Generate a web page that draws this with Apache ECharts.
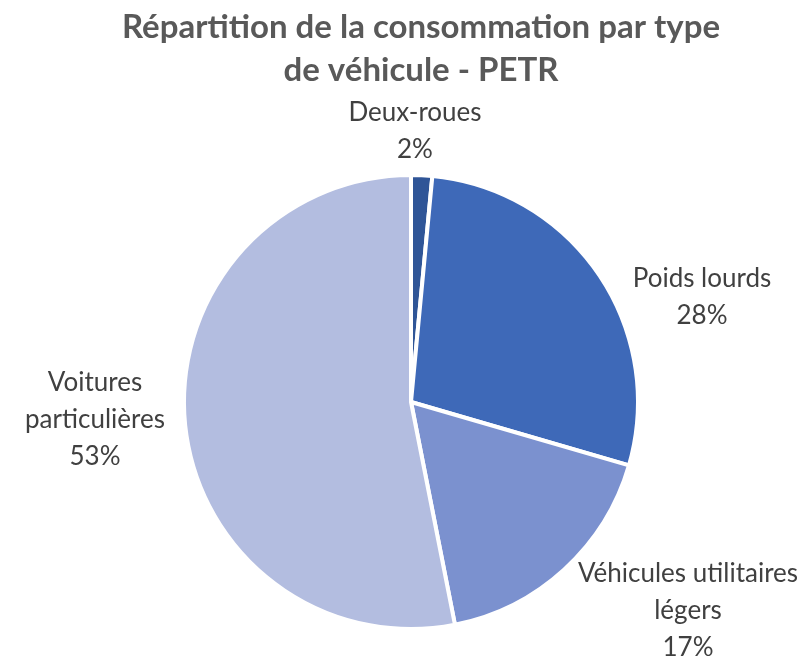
<!DOCTYPE html>
<html><head><meta charset="utf-8">
<script src="https://cdn.jsdelivr.net/npm/echarts@6/dist/echarts.min.js"></script>
<style>html,body{margin:0;padding:0;background:#fff}#c{width:811px;height:657px}</style>
</head><body><div id="c"></div>
<script>
const titleText = 'Répartition de la consommation par type\nde véhicule - PETR';
const categories = ['Deux-roues', 'Poids lourds', 'Véhicules utilitaires\nlégers', 'Voitures\nparticulières'];
const values = [1.5, 28.0, 17.4, 53.1];
const colors = ['#2f5597', '#3e69b8', '#7b91cf', '#b3bde0'];
// label anchor centers (layout)
const labelPos = [[415, 131], [702, 297], [688, 611], [95, 420]];

const chart = echarts.init(document.getElementById('c'));
chart.setOption({
  animation: false,
  title: {
    text: titleText, left: 416, textAlign: 'center', top: 1,
    textStyle: { fontFamily: 'Lato', fontSize: 33, fontWeight: 'bold', color: '#595959', lineHeight: 43 }
  },
  series: [{
    type: 'pie',
    center: [411, 402], radius: 227,
    startAngle: 90, clockwise: true,
    itemStyle: { borderColor: '#fff', borderWidth: 4 },
    label: {
      show: true, position: 'outside', alignTo: 'none', overflow: 'none', width: 400,
      formatter: p => p.name + '\n' + Math.round(p.percent) + '%',
      fontFamily: 'Lato', fontSize: 26, color: '#404040', lineHeight: 37, align: 'center'
    },
    labelLine: { show: false },
    labelLayout: p => ({ x: labelPos[p.dataIndex][0], y: labelPos[p.dataIndex][1], align: 'center', verticalAlign: 'middle' }),
    data: categories.map((c, i) => ({ name: c, value: values[i], itemStyle: { color: colors[i] } }))
  }]
});
</script></body></html>
